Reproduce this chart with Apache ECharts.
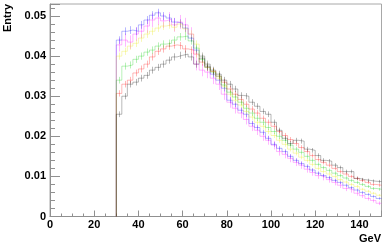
<!DOCTYPE html>
<html><head><meta charset="utf-8">
<script src="https://cdn.jsdelivr.net/npm/echarts@6/dist/echarts.min.js"></script>
<style>html,body{margin:0;padding:0;background:#fff}#c{width:389px;height:246px}</style>
</head><body><div id="c"></div>
<script>
// bin left edges (GeV), bin width 2.5
var binEdges = [30,32.5,35,37.5,40,42.5,45,47.5,50,52.5,55,57.5,60,62.5,65,67.5,70,72.5,75,77.5,80,82.5,85,87.5,90,92.5,95,97.5,100,102.5,105,107.5,110,112.5,115,117.5,120,122.5,125,127.5,130,132.5,135,137.5,140,142.5,145,147.5];
var binWidth = 2.5;
var xTicks = [0,20,40,60,80,100,120,140];
var yTicks = [0,0.01,0.02,0.03,0.04,0.05];

var blackVals = [0.0255,0.0300,0.0330,0.0335,0.0345,0.0352,0.0365,0.0372,0.0380,0.0390,0.0398,0.0402,0.0405,0.0398,0.0380,0.0395,0.0375,0.0365,0.0355,0.0340,0.0330,0.0318,0.0302,0.0300,0.0285,0.0275,0.0262,0.0255,0.0235,0.0215,0.0195,0.0182,0.0190,0.0188,0.0168,0.0165,0.0152,0.0140,0.0138,0.0128,0.0122,0.0112,0.0112,0.0095,0.0092,0.0090,0.0088,0.0087];
var redVals = [0.0307,0.0330,0.0340,0.0358,0.0368,0.0380,0.0398,0.0412,0.0418,0.0425,0.0428,0.0426,0.0418,0.0415,0.0405,0.0385,0.0372,0.0362,0.0350,0.0335,0.0318,0.0305,0.0292,0.0280,0.0268,0.0258,0.0245,0.0235,0.0225,0.0212,0.0202,0.0192,0.0182,0.0172,0.0162,0.0152,0.0142,0.0135,0.0128,0.0120,0.0112,0.0106,0.0100,0.0095,0.0090,0.0085,0.0080,0.0078];
var greenVals = [0.0340,0.0375,0.0378,0.0392,0.0400,0.0410,0.0415,0.0425,0.0430,0.0432,0.0440,0.0448,0.0450,0.0438,0.0420,0.0392,0.0372,0.0360,0.0350,0.0328,0.0310,0.0298,0.0285,0.0270,0.0258,0.0245,0.0235,0.0222,0.0212,0.0200,0.0190,0.0178,0.0168,0.0160,0.0150,0.0140,0.0130,0.0122,0.0115,0.0108,0.0102,0.0096,0.0090,0.0085,0.0080,0.0075,0.0070,0.0068];
var yellowVals = [0.0400,0.0412,0.0425,0.0432,0.0445,0.0455,0.0462,0.0470,0.0475,0.0478,0.0472,0.0480,0.0468,0.0455,0.0430,0.0400,0.0380,0.0362,0.0345,0.0325,0.0305,0.0290,0.0278,0.0262,0.0248,0.0235,0.0225,0.0212,0.0202,0.0190,0.0180,0.0168,0.0158,0.0148,0.0140,0.0130,0.0120,0.0112,0.0106,0.0100,0.0092,0.0086,0.0080,0.0075,0.0068,0.0063,0.0058,0.0053];
var blueVals = [0.0440,0.0462,0.0465,0.0462,0.0478,0.0490,0.0502,0.0508,0.0500,0.0495,0.0485,0.0482,0.0470,0.0445,0.0415,0.0400,0.0380,0.0355,0.0340,0.0320,0.0290,0.0280,0.0265,0.0255,0.0232,0.0222,0.0210,0.0195,0.0180,0.0170,0.0162,0.0150,0.0140,0.0132,0.0125,0.0116,0.0108,0.0102,0.0097,0.0090,0.0085,0.0078,0.0072,0.0066,0.0060,0.0055,0.0050,0.0045];
var magentaVals = [0.0428,0.0440,0.0435,0.0455,0.0462,0.0475,0.0490,0.0495,0.0488,0.0492,0.0478,0.0485,0.0478,0.0455,0.0380,0.0365,0.0360,0.0345,0.0330,0.0305,0.0285,0.0270,0.0258,0.0242,0.0225,0.0215,0.0200,0.0190,0.0178,0.0162,0.0155,0.0145,0.0135,0.0128,0.0118,0.0110,0.0102,0.0098,0.0092,0.0085,0.0078,0.0070,0.0066,0.0058,0.0052,0.0045,0.0040,0.0033];

var seriesDefs = [
  {name:'magenta', vals: magentaVals, color:'#ff00ff', errK:0.008},
  {name:'blue', vals: blueVals, color:'#0000ff', errK:0.0045},
  {name:'yellow', vals: yellowVals, color:'#e6e600', errK:0.0045},
  {name:'red', vals: redVals, color:'#ff0000', errK:0.0045},
  {name:'green', vals: greenVals, color:'#00cc00', errK:0.0045},
  {name:'black', vals: blackVals, color:'#000000', errK:0.0045}
];
var lineOpacity = 0.28;

var series = [];
seriesDefs.forEach(function(d){
  var pts = [[binEdges[0], 0]];
  for (var i=0;i<binEdges.length;i++) pts.push([binEdges[i], d.vals[i]]);
  pts.push([binEdges[binEdges.length-1]+binWidth, d.vals[d.vals.length-1]]);
  series.push({
    type:'line', name:d.name, step:'end', data:pts, showSymbol:false, symbol:'none',
    lineStyle:{color:d.color, width:1, opacity:lineOpacity}, animation:false, silent:true
  });
  var errData = binEdges.map(function(x,i){ return [x+binWidth/2, d.vals[i], d.errK*Math.sqrt(d.vals[i])]; });
  series.push({
    type:'custom', name:d.name+'-err', data:errData, animation:false, silent:true,
    renderItem:function(params, api){
      var x = api.value(0), v = api.value(1), e = api.value(2);
      var p1 = api.coord([x, v-e]), p2 = api.coord([x, v+e]);
      return {type:'line', shape:{x1:Math.round(p1[0])+0.5, y1:p1[1], x2:Math.round(p2[0])+0.5, y2:p2[1]},
        style:{stroke:d.color, lineWidth:1, opacity:lineOpacity}};
    }
  });
});

var font = 'Liberation Sans, Arial, Helvetica, sans-serif';
var chart = echarts.init(document.getElementById('c'), null, {renderer:'canvas'});
chart.setOption({
  backgroundColor:'#ffffff',
  animation:false,
  grid:{left:50, right:7.5, top:4, bottom:29.5, show:true, borderColor:'#a8a8a8', borderWidth:1, backgroundColor:'transparent'},
  xAxis:{type:'value', min:0, max:150, interval:20,
    axisLine:{show:true, onZero:false, lineStyle:{color:'#909090', width:1}},
    axisTick:{show:true, inside:true, length:6, lineStyle:{color:'#909090'}},
    minorTick:{show:true, splitNumber:4, length:3, lineStyle:{color:'#909090'}},
    splitLine:{show:false},
    axisLabel:{color:'#000', fontFamily:font, fontWeight:'bold', fontSize:11, margin:3,
      formatter:function(v){ return xTicks.indexOf(v)>=0 ? String(v) : ''; }}
  },
  yAxis:{type:'value', min:0, max:0.053, interval:0.01,
    axisLine:{show:true, onZero:false, lineStyle:{color:'#909090', width:1}},
    axisTick:{show:true, inside:true, length:10, lineStyle:{color:'#909090'}},
    minorTick:{show:true, splitNumber:5, length:5, lineStyle:{color:'#909090'}},
    splitLine:{show:false},
    axisLabel:{color:'#000', fontFamily:font, fontWeight:'bold', fontSize:11, margin:4, showMaxLabel:false,
      formatter:function(v){ for (var i=0;i<yTicks.length;i++){ if (Math.abs(v-yTicks[i])<1e-9) return i===0?'0':yTicks[i].toFixed(2);} return ''; }}
  },
  graphic:[
    {type:'text', x:8, y:18, rotation:Math.PI/2, style:{text:'Entry', fill:'#000', font:'bold 11px '+font, textAlign:'center', textVerticalAlign:'middle'}},
    {type:'text', x:381, y:239, style:{text:'GeV', fill:'#000', font:'bold 11px '+font, textAlign:'right', textVerticalAlign:'middle'}}
  ],
  series: series
});
</script></body></html>
